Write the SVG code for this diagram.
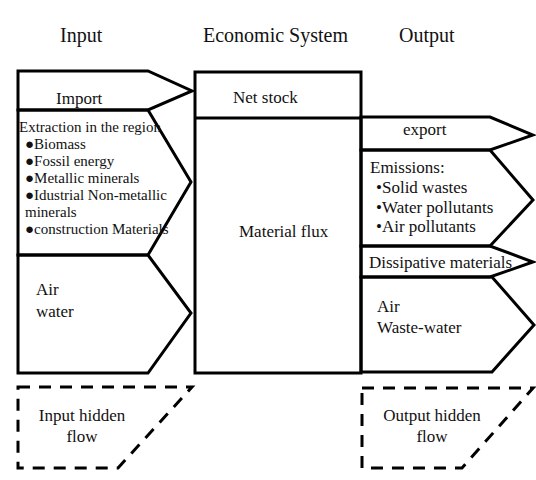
<svg xmlns="http://www.w3.org/2000/svg" width="536" height="480" viewBox="0 0 536 480">
<style>
.s{fill:none;stroke:#000;stroke-width:3;stroke-linejoin:miter}
.d{fill:none;stroke:#000;stroke-width:3;stroke-dasharray:12 9}
text{font-family:'Liberation Serif',serif;fill:#111;font-size:17px}
.t{font-size:20px}
.sm{font-size:15px}
</style>
<rect width="536" height="480" fill="#fff"/>
<g id="titles">
<text class="t" x="60" y="42">Input</text>
<text class="t" x="203" y="42">Economic System</text>
<text class="t" x="399" y="42">Output</text>
</g>
<g id="import">
<polygon class="s" points="18,71 148,71 192,91 148,110 18,110"/>
<text x="56" y="104">Import</text>
</g>
<g id="extraction">
<polygon class="s" points="18,110 148,110 191,182 148,255 18,255"/>
<text class="sm" x="19" y="132">Extraction in the region</text>
<text class="sm" x="25" y="149">●Biomass</text>
<text class="sm" x="25" y="166">●Fossil energy</text>
<text class="sm" x="25" y="183">●Metallic minerals</text>
<text class="sm" x="25" y="200">●Idustrial Non-metallic</text>
<text class="sm" x="25" y="217">minerals</text>
<text class="sm" x="25" y="234">●construction  Materials</text>
</g>
<g id="air-water-in">
<polygon class="s" points="18,255 148,255 191,313 148,373 18,373"/>
<text x="36" y="295">Air</text>
<text x="36" y="317">water</text>
</g>
<g id="input-hidden">
<polygon class="d" points="18,387 192,387 118,468 18,468"/>
<text text-anchor="middle" x="82" y="421">Input hidden</text>
<text text-anchor="middle" x="82" y="442">flow</text>
</g>
<g id="economic-system">
<rect class="s" x="195" y="72" width="166" height="301"/>
<line class="s" x1="195" y1="118" x2="361" y2="118"/>
<text x="233" y="103">Net stock</text>
<text x="239" y="237">Material flux</text>
</g>
<g id="export">
<polygon class="s" points="361,117 490,117 533,135 490,150 361,150"/>
<text x="403" y="135">export</text>
</g>
<g id="emissions">
<polygon class="s" points="361,150 490,150 533,200 490,246 361,246"/>
<text x="370" y="173">Emissions:</text>
<text x="376" y="193">•Solid wastes</text>
<text x="376" y="213">•Water pollutants</text>
<text x="376" y="232">•Air pollutants</text>
</g>
<g id="dissipative">
<polygon class="s" points="361,246 490,246 533,262 490,277 361,277"/>
<text x="369" y="268">Dissipative materials</text>
</g>
<g id="air-waste-water">
<polygon class="s" points="361,277 492,277 534,325 492,372 361,372"/>
<text x="377" y="312">Air</text>
<text x="377" y="333">Waste-water</text>
</g>
<g id="output-hidden">
<polygon class="d" points="362,388 533,388 462,468 362,468"/>
<text text-anchor="middle" x="432" y="421">Output hidden</text>
<text text-anchor="middle" x="432" y="442">flow</text>
</g>
<g id="connectors"></g>
</svg>
